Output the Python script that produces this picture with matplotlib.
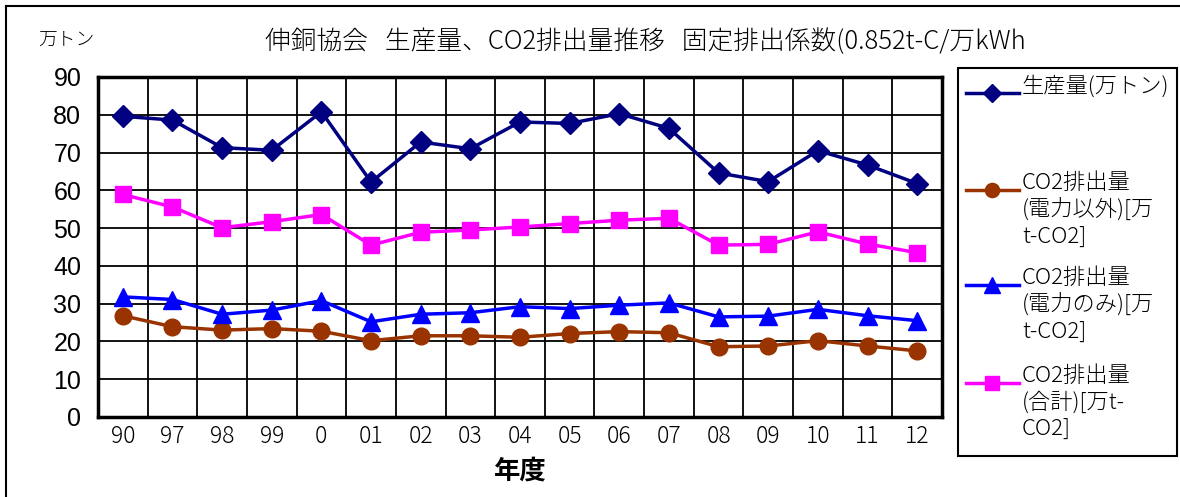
import matplotlib.pyplot as plt
from matplotlib.lines import Line2D
from matplotlib.patches import Rectangle
import numpy as np

plt.rcParams['font.family'] = ['Noto Sans CJK JP', 'DejaVu Sans']
plt.rcParams['font.weight'] = 'light'

# 年度と各系列（万トン / 万t-CO2）
nendo = ['90', '97', '98', '99', '0', '01', '02', '03', '04', '05', '06', '07', '08', '09', '10', '11', '12']
seisanryo = [79.6, 78.6, 71.3, 70.6, 80.8, 62.2, 72.8, 71.0, 78.1, 77.7, 80.3, 76.4, 64.6, 62.3, 70.5, 66.7, 61.8]
co2_igai = [26.8, 23.9, 23.0, 23.4, 22.7, 20.2, 21.5, 21.5, 21.1, 22.1, 22.6, 22.3, 18.6, 18.8, 20.2, 18.8, 17.5]
co2_denryoku = [31.8, 31.1, 27.2, 28.3, 30.8, 25.2, 27.2, 27.6, 29.2, 28.7, 29.6, 30.2, 26.5, 26.7, 28.5, 26.8, 25.5]
co2_goukei = [58.9, 55.6, 50.1, 51.7, 53.6, 45.5, 48.9, 49.5, 50.3, 51.2, 52.1, 52.6, 45.5, 45.7, 49.0, 45.8, 43.5]

series = [
    (seisanryo, '#000080', 'D', 11, '生産量(万トン)'),
    (co2_igai, '#993300', 'o', 12, 'CO2排出量\n(電力以外)[万\nt-CO2]'),
    (co2_denryoku, '#0000FF', '^', 13, 'CO2排出量\n(電力のみ)[万\nt-CO2]'),
    (co2_goukei, '#FF00FF', 's', 12, 'CO2排出量\n(合計)[万t-\nCO2]'),
]

W, H = 1180, 497
fig = plt.figure(figsize=(W / 100, H / 100), dpi=100)
ax = fig.add_axes([98 / W, 1 - 417 / H, (942 - 98) / W, (417 - 77) / H])

x = np.arange(len(nendo))
for vals, col, mk, ms, lab in series:
    ax.plot(x, vals, color=col, lw=2.5, marker=mk, ms=ms, zorder=3)

ax.set_xlim(-0.5, len(nendo) - 0.5)
ax.set_ylim(0, 90)
ax.set_yticks(np.arange(0, 91, 10))
ax.set_yticklabels([str(v) for v in range(0, 91, 10)], family='Liberation Sans',
                   fontsize=18, fontweight='normal')
ax.set_xticks(x)
ax.set_xticklabels(nendo, fontsize=16.5)
ax.set_xticks(np.arange(-0.5, len(nendo), 1), minor=True)
ax.tick_params(axis='both', which='both', length=0)
ax.tick_params(axis='y', pad=12)
ax.tick_params(axis='x', pad=5)
ax.grid(True, axis='y', which='major', color='black', lw=1.3)
ax.grid(True, axis='x', which='minor', color='black', lw=1.3)
for s in ax.spines.values():
    s.set_linewidth(2.5)

ax.set_xlabel('年度', fontsize=19, fontweight='bold', labelpad=6)

fig.text(645 / W, 1 - 42 / H, '伸銅協会   生産量、CO2排出量推移   固定排出係数(0.852t-C/万kWh',
         ha='center', va='center', fontsize=18.5)
fig.text(38 / W, 1 - 40 / H, '万トン', ha='left', va='center', fontsize=13.5)

# 凡例（手描きの枠）
fig.add_artist(Rectangle((958 / W, 1 - 456 / H), (1177 - 958) / W, (456 - 68) / H,
                         transform=fig.transFigure, fill=False, lw=1.5, color='black'))
entry_y = [93, 190, 285, 383]
for (vals, col, mk, ms, lab), ey in zip(series, entry_y):
    yf = 1 - ey / H
    fig.add_artist(Line2D([966 / W, 1019 / W], [yf, yf], transform=fig.transFigure,
                          color=col, lw=2.5))
    fig.add_artist(Line2D([992 / W], [yf], transform=fig.transFigure, color=col,
                          marker=mk, ms=ms * 0.85, lw=0))
    fig.text(1022 / W, 1 - (ey - 18) / H, lab, ha='left', va='top', fontsize=16,
             linespacing=1.25)

# 外枠（左と上）
fig.add_artist(Line2D([6 / W, 6 / W], [0, 1 - 6 / H], transform=fig.transFigure, color='black', lw=1.5))
fig.add_artist(Line2D([6 / W, 1], [1 - 6 / H, 1 - 6 / H], transform=fig.transFigure, color='black', lw=1.5))

fig.savefig('out.png', dpi=100)
